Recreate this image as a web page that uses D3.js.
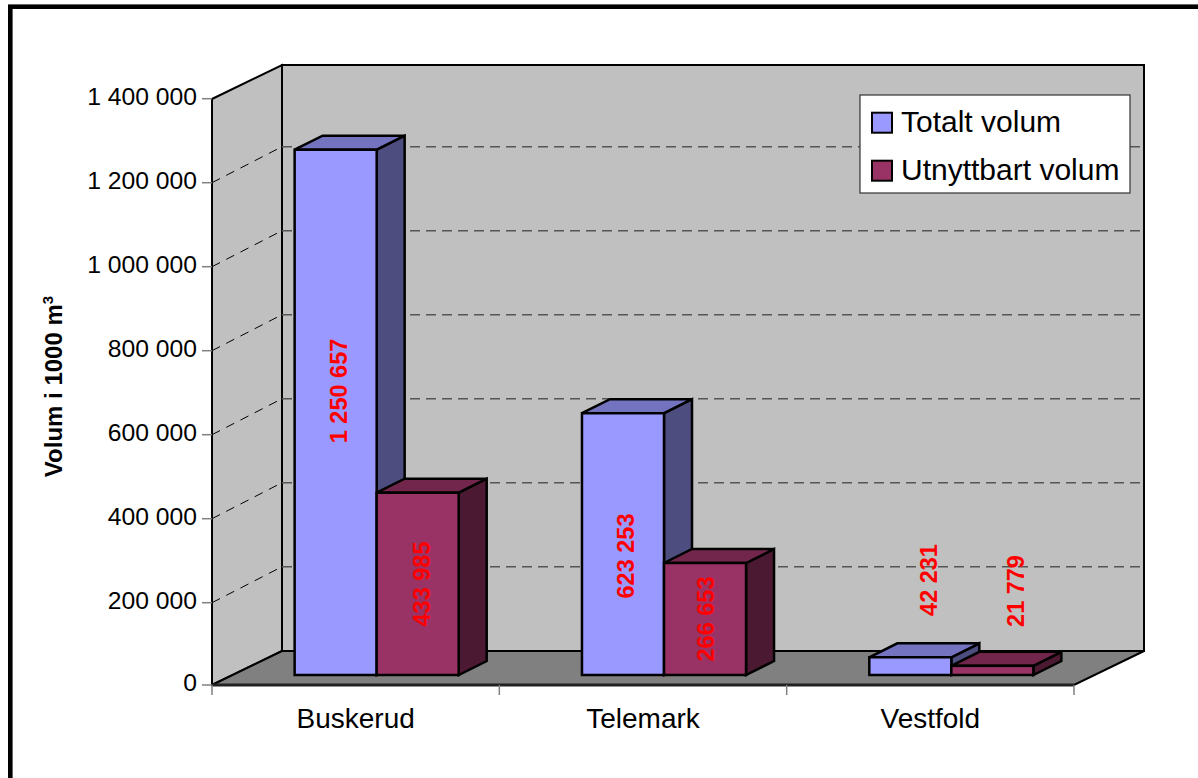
<!DOCTYPE html>
<html>
<head>
<meta charset="utf-8">
<script src="https://cdn.jsdelivr.net/npm/d3@7/dist/d3.min.js"></script>
<style>
html,body{margin:0;padding:0;background:#fff}
svg{display:block}
text{font-family:"Liberation Sans",Arial,sans-serif}
</style>
</head>
<body>
<svg id="chart" width="1198" height="778"></svg>
<script>
// Reservoir volumes per county, in thousands of cubic metres
const categories = ["Buskerud", "Telemark", "Vestfold"];
const seriesNames = ["Totalt volum", "Utnyttbart volum"];
const totalVolume = [1250657, 623253, 42231];
const usableVolume = [433985, 266653, 21779];
const yTicks = [0, 200000, 400000, 600000, 800000, 1000000, 1200000, 1400000];

const seriesColors = [
  {front: "#9999ff", top: "#7373bf", side: "#4d4d7f"},
  {front: "#993366", top: "#73264c", side: "#4c1933"}
];

// Hand placement of the rotated value labels, per series and county
const labelCentres = [[391, 556, 580], [584, 619, 591]];
const labelNudgeX = [[3, 3, 18], [4, 1, 23]];

const svg = d3.select("#chart");
const fmt = v => d3.format(",")(v).replace(/,/g, " ");

// Oblique projection of the plot box
const left = 212, right = 1074, floorY = 685, topY = 99;
const depthX = 70, depthY = -34, gridDepthY = -36;
const barDepthX = 28, barDepthY = -14;
const barShiftX = 21;

const y = d3.scaleLinear().domain([0, 1400000]).range([686.7, 98.7]);
const frontY = v => Math.min(y(v), floorY);
const barBase = 675;
const barShiftY = barBase - y(0);
const xCat = d3.scaleBand().domain(categories).range([left, right]).paddingInner(0.429).paddingOuter(0.2145);
const xSer = d3.scaleBand().domain([0, 1]).range([0, xCat.bandwidth()]);

const poly = pts => pts.map(p => p.join(",")).join(" ");

// Outer frame of the chart area
svg.append("rect").attr("x", 10.3).attr("y", 6.7).attr("width", 1230).attr("height", 800)
  .attr("fill", "#fff").attr("stroke", "#000").attr("stroke-width", 4.6);

// Left wall
svg.append("polygon")
  .attr("points", poly([[left, floorY], [left, topY], [left + depthX, topY + depthY], [left + depthX, floorY + depthY]]))
  .attr("fill", "#c0c0c0").attr("stroke", "#000").attr("stroke-width", 2);
// Back wall
svg.append("rect")
  .attr("x", left + depthX).attr("y", topY + depthY)
  .attr("width", right - left).attr("height", floorY - topY)
  .attr("fill", "#c0c0c0").attr("stroke", "#000").attr("stroke-width", 2);
// Floor
svg.append("polygon")
  .attr("points", poly([[left, floorY], [right, floorY], [right + depthX, floorY + depthY], [left + depthX, floorY + depthY]]))
  .attr("fill", "#808080").attr("stroke", "#000").attr("stroke-width", 2);
svg.append("line").attr("x1", left).attr("x2", right).attr("y1", floorY).attr("y2", floorY)
  .attr("stroke", "#222").attr("stroke-width", 3);

// Dashed gridlines across both walls
const inner = yTicks.filter(t => t > 0 && t < 1400000);
svg.append("g").selectAll("line").data(inner).join("line")
  .attr("x1", left).attr("y1", d => y(d))
  .attr("x2", left + depthX).attr("y2", d => y(d) + gridDepthY)
  .attr("stroke", "#000").attr("stroke-width", 1).attr("stroke-dasharray", "9 7");
svg.append("g").selectAll("line").data(inner).join("line")
  .attr("x1", left + depthX).attr("y1", d => y(d) + gridDepthY)
  .attr("x2", right + depthX).attr("y2", d => y(d) + gridDepthY)
  .attr("stroke", "#555").attr("stroke-width", 1.5).attr("stroke-dasharray", "10 6");

// Value axis
const yAxis = svg.append("g").attr("transform", `translate(${left},0)`);
const yTick = yAxis.selectAll("g").data(yTicks).join("g")
  .attr("transform", d => `translate(0,${frontY(d)})`);
yTick.append("line").attr("x1", -10).attr("x2", 0)
  .attr("stroke", "#808080").attr("stroke-width", 1.5);
yTick.append("text").attr("x", -15).attr("y", -1.5).attr("dy", "0.32em").attr("text-anchor", "end")
  .attr("font-size", 24.7).attr("fill", "#000").text(fmt);

// Category axis with separators between the counties
const xAxis = svg.append("g").attr("transform", `translate(0,${floorY})`);
const catEdges = d3.range(categories.length + 1).map(i => left + i * xCat.step());
xAxis.selectAll("line").data(catEdges).join("line")
  .attr("x1", d => d).attr("x2", d => d).attr("y1", 0).attr("y2", 10)
  .attr("stroke", "#808080").attr("stroke-width", 1.5);
xAxis.selectAll("text").data(categories).join("text")
  .attr("x", d => xCat(d) + xCat.bandwidth() / 2).attr("y", 43)
  .attr("text-anchor", "middle").attr("font-size", 28).attr("fill", "#000").text(d => d);

// Columns: drawn from back-left to front-right, each as three visible faces
const rows = [];
categories.forEach((c, i) => {
  rows.push({c, s: 0, v: totalVolume[i], lab: labelCentres[0][i], nudge: labelNudgeX[0][i]});
  rows.push({c, s: 1, v: usableVolume[i], lab: labelCentres[1][i], nudge: labelNudgeX[1][i]});
});
const bars = svg.append("g").selectAll("g").data(rows).join("g");
const x0 = d => xCat(d.c) + xSer(d.s) + barShiftX;
const x1 = d => x0(d) + xSer.bandwidth();
const yt = d => y(d.v) + barShiftY;
const face = sel => sel.attr("stroke", "#000").attr("stroke-width", 2.5).attr("stroke-linejoin", "miter");

face(bars.append("polygon")
  .attr("points", d => poly([[x1(d), yt(d)], [x1(d) + barDepthX, yt(d) + barDepthY], [x1(d) + barDepthX, barBase + barDepthY], [x1(d), barBase]]))
  .attr("fill", d => seriesColors[d.s].side));
face(bars.append("polygon")
  .attr("points", d => poly([[x0(d), yt(d)], [x0(d) + barDepthX, yt(d) + barDepthY], [x1(d) + barDepthX, yt(d) + barDepthY], [x1(d), yt(d)]]))
  .attr("fill", d => seriesColors[d.s].top));
face(bars.append("rect")
  .attr("x", x0).attr("y", yt)
  .attr("width", xSer.bandwidth()).attr("height", d => barBase - yt(d))
  .attr("fill", d => seriesColors[d.s].front));

// Rotated value labels
svg.append("g").selectAll("text").data(rows).join("text")
  .attr("transform", d => `translate(${(x0(d) + x1(d)) / 2 + d.nudge},${d.lab}) rotate(-90)`)
  .attr("text-anchor", "middle").attr("dy", "0.35em")
  .attr("font-size", 23.5).attr("font-weight", "bold").attr("fill", "#ff0000")
  .text(d => fmt(d.v));

// Value axis title with superscript unit
const title = svg.append("text")
  .attr("transform", "translate(62,386.5) rotate(-90)")
  .attr("text-anchor", "middle")
  .attr("font-size", 24).attr("font-weight", "bold").attr("fill", "#000");
title.append("tspan").text("Volum i 1000 m");
title.append("tspan").attr("dy", -9).attr("font-size", 15).text("3");

// Legend
const legend = svg.append("g");
legend.append("rect").attr("x", 860).attr("y", 95).attr("width", 270).attr("height", 98)
  .attr("fill", "#fff").attr("stroke", "#333").attr("stroke-width", 1.2);
const legendRows = legend.selectAll("g").data(seriesNames).join("g")
  .attr("transform", (d, i) => `translate(872,${112.7 + i * 48})`);
legendRows.append("rect").attr("width", 20).attr("height", 20)
  .attr("fill", (d, i) => seriesColors[i].front).attr("stroke", "#000").attr("stroke-width", 2);
legendRows.append("text").attr("x", 29).attr("y", 19)
  .attr("font-size", 30).attr("fill", "#000").text(d => d);
</script>
</body>
</html>
